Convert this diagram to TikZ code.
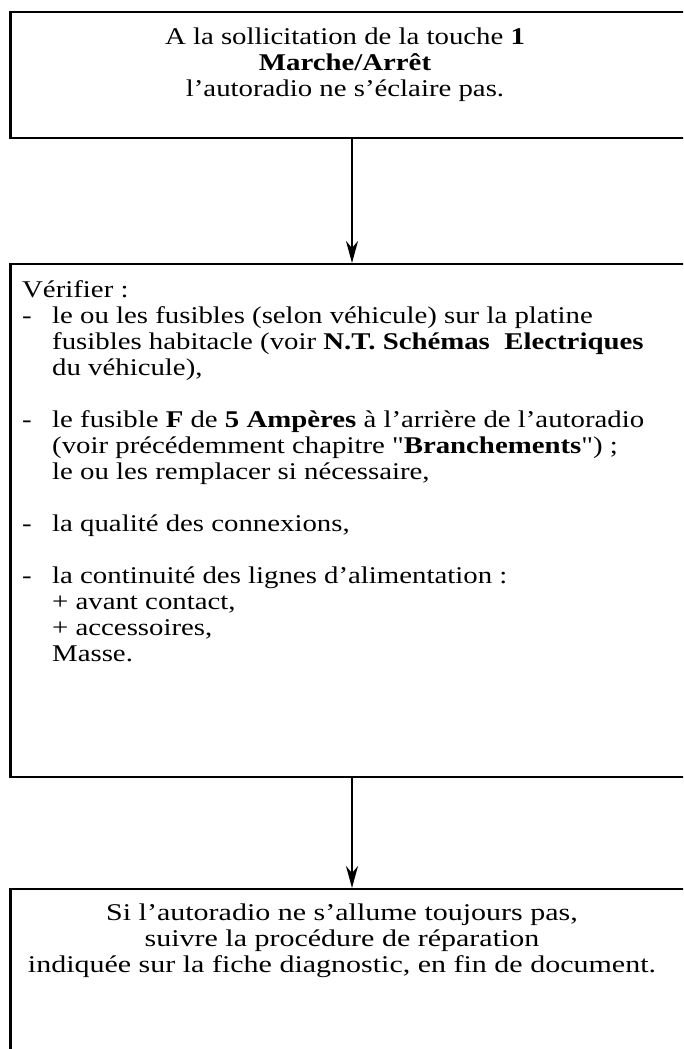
\documentclass[tikz,border=0pt]{standalone}
\usepackage{fontspec}
\setmainfont{Liberation Serif}[FakeStretch=1.2,Ligatures=TeXOff]
\newfontfamily\widefont{Liberation Serif}[FakeStretch=1.25,Ligatures=TeXOff]
\usetikzlibrary{arrows.meta}
\tikzset{
  boxframe/.style={draw=black,line width=2pt,rectangle,inner sep=0pt,anchor=north west},
  leftedge/.style={line width=3pt},
  txt/.style={inner sep=0pt,font=\fontsize{24}{26}\selectfont},
  widetxt/.style={inner sep=0pt,font=\widefont\fontsize{24}{26}\selectfont},
  arr/.style={line width=2pt,-{Stealth[length=22pt,width=12pt,inset=7pt]}}
}
\begin{document}
\begin{tikzpicture}[x=1pt,y=1pt]
\useasboundingbox (0,0) rectangle (683,-1049);
\clip (0,0) rectangle (683,-1049);
% boxes
\node[boxframe,minimum width=690pt,minimum height=126pt] (b1) at (10,-11) {};
\node[boxframe,minimum width=690pt,minimum height=513pt] (b2) at (10,-263) {};
\node[boxframe,minimum width=690pt,minimum height=220pt] (b3) at (10,-888) {};
\draw[leftedge] (b1.north west) -- (b1.south west);
\draw[leftedge] (b2.north west) -- (b2.south west);
\draw[leftedge] (b3.north west) -- (b3.south west);
% texts
\node[txt,anchor=base] (t1) at (345,-45) {\begin{tabular}[t]{@{}c@{}}
A la sollicitation de la touche \textbf{1}\\
\textbf{Marche/Arrêt}\\
l’autoradio ne s’éclaire pas.
\end{tabular}};
\node[txt,anchor=base west] (t2) at (22,-297) {\begin{tabular}[t]{@{}p{30pt}@{}l@{}}
\multicolumn{2}{@{}l@{}}{Vérifier :}\\
-& le ou les fusibles (selon véhicule) sur la platine\\
 & fusibles habitacle (voir \textbf{N.T. Schémas\ \ Electriques}\\
 & du véhicule),\\
 & \\
-& le fusible \textbf{F} de \textbf{5 Ampères} à l’arrière de l’autoradio\\
 & (voir précédemment chapitre "\textbf{Branchements}") ;\\
 & le ou les remplacer si nécessaire,\\
 & \\
-& la qualité des connexions,\\
 & \\
-& la continuité des lignes d’alimentation :\\
 & + avant contact,\\
 & + accessoires,\\
 & Masse.
\end{tabular}};
\node[widetxt,anchor=base] (t3) at (342,-920) {\begin{tabular}[t]{@{}c@{}}
Si l’autoradio ne s’allume toujours pas,\\
suivre la procédure de réparation\\
indiquée sur la fiche diagnostic, en fin de document.
\end{tabular}};
% connectors
\coordinate (ax) at (352,0);
\draw[arr] (b1.south -| ax) -- (b2.north -| ax);
\draw[arr] (b2.south -| ax) -- (b3.north -| ax);
\end{tikzpicture}
\end{document}
